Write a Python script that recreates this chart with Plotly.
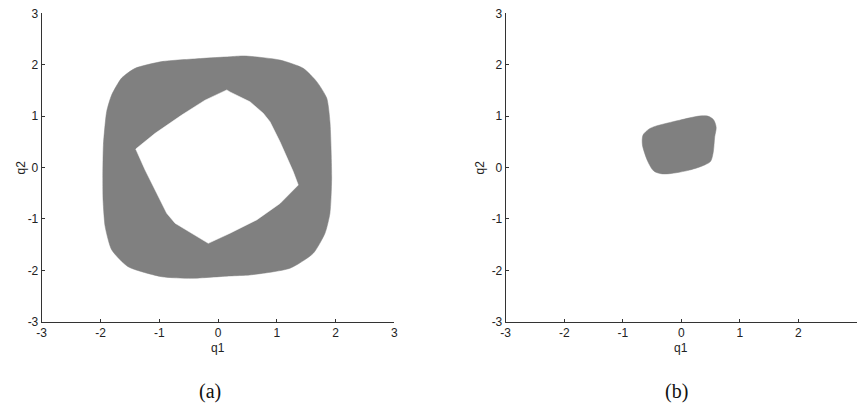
import plotly.graph_objects as go

# Region (a): outer boundary of the reachable set (clockwise)
outer_q1 = [-1.96, -1.95, -1.894, -1.81, -1.64, -1.41, -0.958, -0.30, 0.20, 0.45,
            1.055, 1.45, 1.68, 1.85, 1.905, 1.934, 1.905, 1.82, 1.62, 1.225,
            0.544, 0.204, -0.45, -0.958, -1.53, -1.81, -1.92, -1.955]
outer_q2 = [-0.21, 0.44, 1.09, 1.41, 1.74, 1.93, 2.06, 2.12, 2.155, 2.17,
            2.09, 1.93, 1.67, 1.35, 0.89, -0.21, -0.89, -1.28, -1.67, -1.96,
            -2.09, -2.11, -2.155, -2.125, -1.93, -1.60, -1.15, -0.65]

# Region (a): inner hole boundary
inner_q1 = [-1.40, -1.07, -0.618, -0.221, 0.15, 0.204, 0.544, 0.77, 0.885, 1.055,
            1.28, 1.366, 1.055, 0.658, 0.204, -0.165, -0.73, -0.873, -1.043, -1.24, -1.40]
inner_q2 = [0.36, 0.665, 1.02, 1.31, 1.51, 1.47, 1.28, 1.055, 0.89, 0.50,
            -0.08, -0.34, -0.70, -1.02, -1.28, -1.475, -1.085, -0.89, -0.50, -0.05, 0.36]

# Region (b): small set
blob_q1 = [-0.665, -0.655, -0.55, -0.45, -0.03, 0.30, 0.45, 0.55, 0.595, 0.57,
           0.545, 0.50, 0.40, 0.14, -0.20, -0.35, -0.47, -0.57]
blob_q2 = [0.44, 0.63, 0.75, 0.80, 0.92, 1.00, 1.00, 0.93, 0.78, 0.60,
           0.30, 0.12, 0.05, -0.05, -0.12, -0.12, -0.07, 0.11]

tick_vals = [-3, -2, -1, 0, 1, 2, 3]
tick_text = ["-3", "-2", "-1", "0", "1", "2", "3"]

GRAY = "#808080"
W, H = 857, 410

fig = go.Figure()
fig.add_trace(go.Scatter(x=outer_q1 + [outer_q1[0]], y=outer_q2 + [outer_q2[0]],
                         mode="lines", fill="toself", fillcolor=GRAY,
                         line=dict(color=GRAY, width=0.5, shape="spline", smoothing=0.6),
                         xaxis="x", yaxis="y", hoverinfo="skip"))
fig.add_trace(go.Scatter(x=inner_q1, y=inner_q2,
                         mode="lines", fill="toself", fillcolor="white",
                         line=dict(color="white", width=0.5),
                         xaxis="x", yaxis="y", hoverinfo="skip"))
fig.add_trace(go.Scatter(x=blob_q1 + [blob_q1[0]], y=blob_q2 + [blob_q2[0]],
                         mode="lines", fill="toself", fillcolor=GRAY,
                         line=dict(color=GRAY, width=0.5, shape="spline", smoothing=0.8),
                         xaxis="x2", yaxis="y2", hoverinfo="skip"))

axis_common = dict(range=[-3, 3], tickvals=tick_vals, ticktext=tick_text,
                   ticks="inside", ticklen=3, tickcolor="#333", tickwidth=1,
                   showline=True, linecolor="#333", linewidth=1, mirror=False,
                   showgrid=False, zeroline=False, automargin=False,
                   tickfont=dict(family="Liberation Sans", size=12, color="#222"))

fig.update_layout(
    width=W, height=H, margin=dict(l=0, r=0, t=0, b=0, autoexpand=False),
    paper_bgcolor="white", plot_bgcolor="white", showlegend=False,
    xaxis=dict(domain=[41.7 / W, 394.3 / W], anchor="y", **axis_common),
    yaxis=dict(domain=[1 - 321.7 / H, 1 - 13.3 / H], anchor="x", **axis_common),
    xaxis2=dict(domain=[505.7 / W, 1.0], anchor="y2", **axis_common),
    yaxis2=dict(domain=[1 - 321.7 / H, 1 - 13.3 / H], anchor="x2", **axis_common),
)

label_font = dict(family="Liberation Sans", size=12, color="#222")
cap_font = dict(family="Liberation Serif", size=20, color="#111")
centered = dict(showarrow=False, xanchor="center", yanchor="middle")

# axis titles
fig.add_annotation(x=0, xref="x", y=1 - 348 / H, yref="paper", text="q1",
                   font=label_font, **centered)
fig.add_annotation(x=0, xref="x2", y=1 - 348 / H, yref="paper", text="q1",
                   font=label_font, **centered)
fig.add_annotation(x=20 / W, xref="paper", y=0, yref="y", text="q2", textangle=-90,
                   font=label_font, **centered)
fig.add_annotation(x=479 / W, xref="paper", y=0, yref="y2", text="q2", textangle=-90,
                   font=label_font, **centered)

# panel captions
fig.add_annotation(x=210 / W, xref="paper", y=1 - 391 / H, yref="paper", text="(a)",
                   font=cap_font, **centered)
fig.add_annotation(x=676 / W, xref="paper", y=1 - 391 / H, yref="paper", text="(b)",
                   font=cap_font, **centered)

fig.write_html("out.html")
